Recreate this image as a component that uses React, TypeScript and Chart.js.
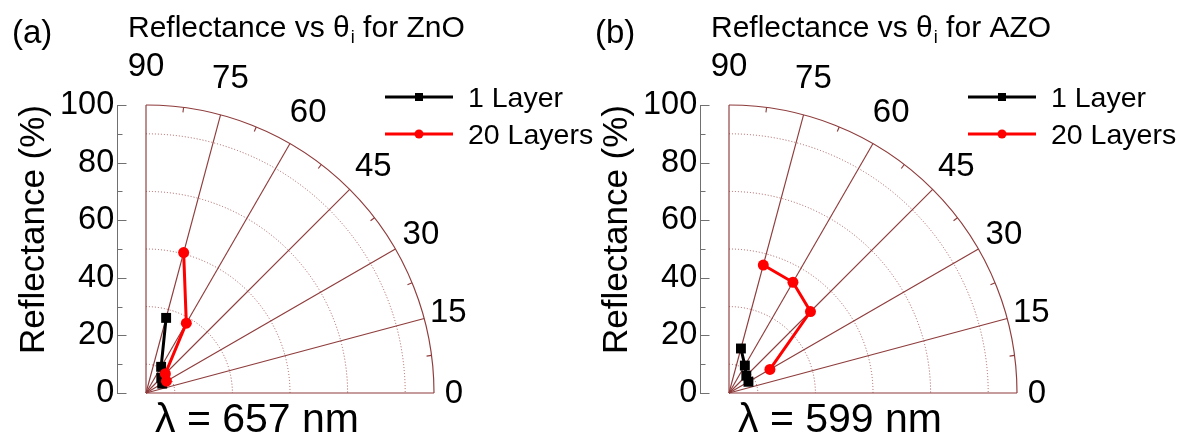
import React, { useEffect, useRef } from 'react';
import { Chart, registerables } from 'chart.js';

Chart.register(...registerables);

// ---------- data ----------
const angleTicks = [0, 15, 30, 45, 60, 75, 90];
const minorAngleTicks = [7.5, 22.5, 37.5, 52.5, 67.5, 82.5];
const dottedCircles = [10, 30, 50, 70, 90];
const radialMax = 100;
const yMajorTicks = [0, 20, 40, 60, 80, 100];
const yMinorTicks = [10, 30, 50, 70, 90];

// ZnO (a), lambda = 657 nm
const znoAngles1 = [75, 60, 45, 30];
const znoRefl1 = [27, 10.5, 7.5, 6.5];
const znoAngles20 = [75, 60, 45, 30];
const znoRefl20 = [50.5, 28, 9.5, 8.2];

// AZO (b), lambda = 599 nm
const azoAngles1 = [75, 60, 45, 30];
const azoRefl1 = [16, 11, 8.5, 7.8];
const azoAngles20 = [75, 60, 45, 30];
const azoRefl20 = [46, 44.4, 40, 16.4];

const seriesNames = ['1 Layer', '20 Layers'];

const FONT = "'Liberation Sans', Arial, Helvetica, sans-serif";
const GRID_COLOR = '#8e3b3b';
const DOT_COLOR = '#a85858';
const AXIS_COLOR = '#707070';

function toXY(angles: number[], refl: number[]) {
  return angles.map((a, i) => {
    const t = (a * Math.PI) / 180;
    return { x: refl[i] * Math.cos(t), y: refl[i] * Math.sin(t) };
  });
}

const polarPlugin = {
  id: 'polarGrid',
  beforeDatasetsDraw(chart: any) {
    const { ctx } = chart;
    const xs = chart.scales.x;
    const ys = chart.scales.y;
    const ox = xs.getPixelForValue(0);
    const oy = ys.getPixelForValue(0);
    const unit = (ys.getPixelForValue(0) - ys.getPixelForValue(radialMax)) / radialMax;
    const R = radialMax * unit;
    ctx.save();
    ctx.lineWidth = 1;
    // dotted circles
    ctx.setLineDash([1, 2]);
    dottedCircles.forEach((r) => {
      ctx.strokeStyle = DOT_COLOR;
      ctx.beginPath();
      ctx.arc(ox, oy, r * unit, -Math.PI / 2, 0);
      ctx.stroke();
    });
    ctx.setLineDash([]);
    // spokes
    angleTicks.forEach((a) => {
      const t = (a * Math.PI) / 180;
      ctx.strokeStyle = GRID_COLOR;
      ctx.lineWidth = 1.15;
      ctx.beginPath();
      ctx.moveTo(ox, oy);
      ctx.lineTo(ox + R * Math.cos(t), oy - R * Math.sin(t));
      ctx.stroke();
    });
    // outer arc
    ctx.strokeStyle = GRID_COLOR;
    ctx.lineWidth = 1.15;
    ctx.beginPath();
    ctx.arc(ox, oy, R, -Math.PI / 2, 0);
    ctx.stroke();
    // minor ticks on outer arc (inward)
    minorAngleTicks.forEach((a) => {
      const t = (a * Math.PI) / 180;
      ctx.beginPath();
      ctx.moveTo(ox + R * Math.cos(t), oy - R * Math.sin(t));
      ctx.lineTo(ox + (R - 5) * Math.cos(t), oy - (R - 5) * Math.sin(t));
      ctx.stroke();
    });
    // y axis ticks pointing inward
    const ax = Math.round(ys.right) + 0.5;
    ctx.strokeStyle = AXIS_COLOR;
    ctx.lineWidth = 1;
    yMajorTicks.forEach((v) => {
      const y = Math.round(ys.getPixelForValue(v)) + 0.5;
      ctx.beginPath();
      ctx.moveTo(ax, y);
      ctx.lineTo(ax + 9, y);
      ctx.stroke();
    });
    yMinorTicks.forEach((v) => {
      const y = Math.round(ys.getPixelForValue(v)) + 0.5;
      ctx.beginPath();
      ctx.moveTo(ax, y);
      ctx.lineTo(ax + 5, y);
      ctx.stroke();
    });
    ctx.restore();
  },
  afterDraw(chart: any, _args: any, opts: any) {
    const { ctx } = chart;
    const xs = chart.scales.x;
    const ys = chart.scales.y;
    const ox = xs.getPixelForValue(0);
    const oy = ys.getPixelForValue(0);
    const unit = (ys.getPixelForValue(0) - ys.getPixelForValue(radialMax)) / radialMax;
    const R = radialMax * unit;
    ctx.save();
    ctx.fillStyle = '#000';
    // angle labels
    ctx.font = `33px ${FONT}`;
    ctx.textAlign = 'center';
    ctx.textBaseline = 'middle';
    angleTicks.forEach((a) => {
      const t = (a * Math.PI) / 180;
      const rl = R + 20 + 19 * Math.sin(t);
      ctx.fillText(String(a), ox + rl * Math.cos(t), oy - rl * Math.sin(t) + 1);
    });
    // panel label
    ctx.textAlign = 'left';
    ctx.textBaseline = 'alphabetic';
    ctx.font = `33px ${FONT}`;
    ctx.fillText(opts.panel, 12, 43);
    // title with subscript
    ctx.font = `30px ${FONT}`;
    let x = 128;
    const t1 = 'Reflectance vs \u03b8';
    ctx.fillText(t1, x, 37);
    x += ctx.measureText(t1).width;
    ctx.font = `18px ${FONT}`;
    ctx.fillText('i', x + 1, 43);
    x += ctx.measureText('i').width + 1;
    ctx.font = `30px ${FONT}`;
    ctx.fillText(' for ' + opts.material, x, 37);
    // wavelength
    ctx.font = `41px ${FONT}`;
    ctx.fillText(opts.lambda, 155, 432);
    // legend
    const ds = chart.data.datasets;
    const rows = [97, 134];
    ds.forEach((d: any, i: number) => {
      const y = rows[i];
      ctx.strokeStyle = d.borderColor;
      ctx.lineWidth = 3;
      ctx.beginPath();
      ctx.moveTo(385, y);
      ctx.lineTo(453, y);
      ctx.stroke();
      ctx.fillStyle = d.backgroundColor;
      if (d.pointStyle === 'rect') {
        ctx.fillRect(419 - 4, y - 4, 8, 8);
      } else {
        ctx.beginPath();
        ctx.arc(419, y, 4.5, 0, Math.PI * 2);
        ctx.fill();
      }
      ctx.fillStyle = '#000';
      ctx.font = `28.5px ${FONT}`;
      ctx.textBaseline = 'middle';
      ctx.fillText(d.label, 468, y + 2);
    });
    ctx.restore();
  },
};

type PanelProps = {
  left: number;
  width: number;
  panel: string;
  material: string;
  lambda: string;
  angles1: number[];
  refl1: number[];
  angles20: number[];
  refl20: number[];
};

function Panel(props: PanelProps) {
  const ref = useRef<HTMLCanvasElement | null>(null);
  useEffect(() => {
    const canvas = ref.current;
    if (!canvas) return;
    const H = 439;
    const chart = new Chart(canvas, {
      type: 'scatter',
      data: {
        datasets: [
          {
            label: seriesNames[0],
            data: toXY(props.angles1, props.refl1),
            showLine: true,
            borderColor: '#000000',
            backgroundColor: '#000000',
            borderWidth: 3,
            pointStyle: 'rect',
            pointRadius: 7,
            pointBorderWidth: 0,
            order: 2,
            clip: false,
          },
          {
            label: seriesNames[1],
            data: toXY(props.angles20, props.refl20),
            showLine: true,
            borderColor: '#ff0000',
            backgroundColor: '#ff0000',
            borderWidth: 3,
            pointStyle: 'circle',
            pointRadius: 5.5,
            pointBorderWidth: 0,
            order: 1,
            clip: false,
          },
        ],
      },
      options: {
        responsive: false,
        animation: false,
        events: [],
        layout: { padding: { left: 0, right: props.width - 434, top: 105, bottom: H - 393 } },
        plugins: {
          legend: { display: false },
          tooltip: { enabled: false },
          title: { display: false },
          polarGrid: { panel: props.panel, material: props.material, lambda: props.lambda },
        } as any,
        scales: {
          x: { type: 'linear', min: -10, max: 100, display: false },
          y: {
            type: 'linear',
            min: 0,
            max: 100,
            position: 'left',
            afterFit: (s: any) => {
              s.width = 117.2;
            },
            ticks: {
              stepSize: 20,
              padding: 3,
              autoSkip: false,
              color: '#000',
              font: { family: FONT, size: 32.5 },
            },
            grid: { display: false, drawTicks: false },
            border: { display: true, color: AXIS_COLOR, width: 1 },
            title: {
              display: true,
              text: 'Reflectance (%)',
              align: 'end',
              color: '#000',
              font: { family: FONT, size: 35 },
              padding: { top: 13, bottom: 0 },
            },
          },
        },
      },
      plugins: [polarPlugin as any],
    });
    return () => chart.destroy();
  }, []);
  return (
    <canvas
      ref={ref}
      width={props.width}
      height={439}
      style={{ position: 'absolute', left: props.left, top: 0, display: 'block' }}
    />
  );
}

export default function App() {
  return (
    <div
      style={{
        position: 'absolute',
        left: 0,
        top: 0,
        width: 1189,
        height: 439,
        background: '#fff',
        overflow: 'hidden',
      }}
    >
      <Panel
        left={0}
        width={610}
        panel="(a)"
        material="ZnO"
        lambda="λ = 657 nm"
        angles1={znoAngles1}
        refl1={znoRefl1}
        angles20={znoAngles20}
        refl20={znoRefl20}
      />
      <Panel
        left={583}
        width={606}
        panel="(b)"
        material="AZO"
        lambda="λ = 599 nm"
        angles1={azoAngles1}
        refl1={azoRefl1}
        angles20={azoAngles20}
        refl20={azoRefl20}
      />
    </div>
  );
}
